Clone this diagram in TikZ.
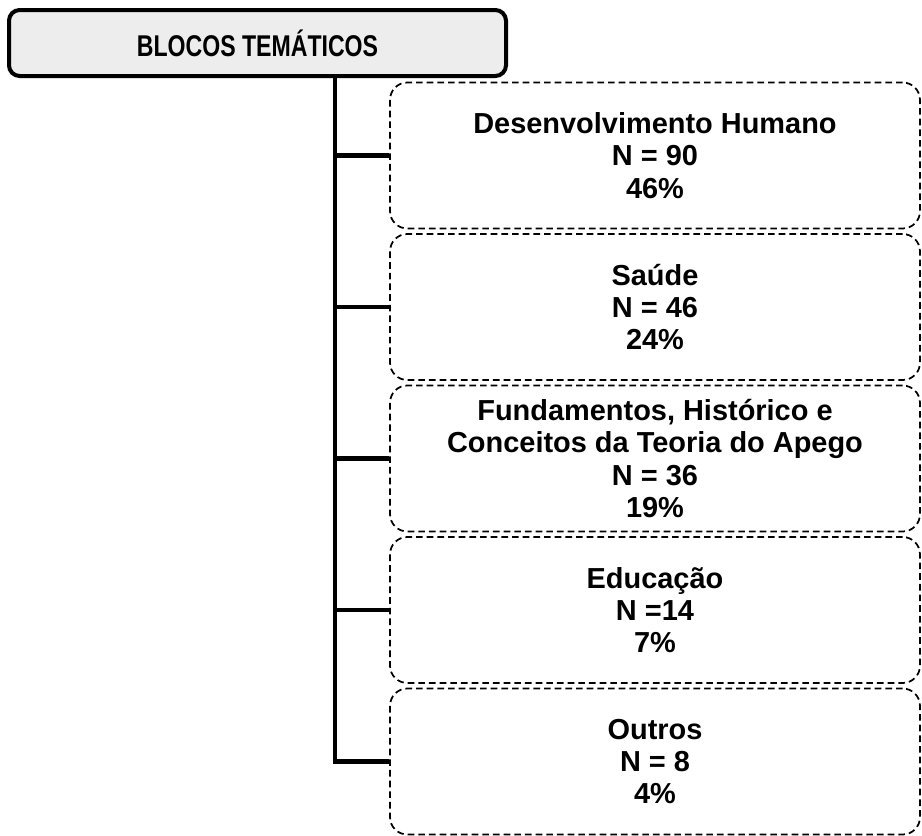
\documentclass[tikz,border=0pt]{standalone}
\usepackage{graphicx}
\usepackage{fontspec}
\setmainfont{Liberation Sans}
\usetikzlibrary{positioning}

\tikzset{
    titulo/.style={draw, line width=3pt, rounded corners=8pt, fill=gray!14,
        minimum width=372.75pt, minimum height=49.5pt, inner sep=0pt,
        font=\bfseries\fontsize{22.5}{24}\selectfont},
    tema/.style={draw, dash pattern=on 5pt off 3pt, line width=1.3pt,
        rounded corners=13pt, minimum width=397.5pt, minimum height=109.5pt,
        align=center, inner sep=0pt, font=\bfseries\fontsize{21.7}{24.2}\selectfont},
    ramo/.style={line width=3.5pt}
}

\begin{document}
\begin{tikzpicture}[x=0.75pt, y=-0.75pt]
    \useasboundingbox (0,0) rectangle (922,836);

    \node[titulo] (blocos) at (257.5,43) {\scalebox{0.77}[1]{BLOCOS TEMÁTICOS}};

    \foreach \i/\txt in {1/{Desenvolvimento Humano\\N = 90\\46\%},
                         2/{Saúde\\N = 46\\24\%},
                         3/{Fundamentos, Histórico e\\Conceitos da Teoria do Apego\\N = 36\\19\%},
                         4/{Educação\\N =14\\7\%},
                         5/{Outros\\N = 8\\4\%}}
        \node[tema] (tema\i) at (655,{155.5+151.5*(\i-1)}) {\txt};

    % tronco e ramos
    \coordinate (tronco) at (335,0);
    \draw[ramo] (tronco |- blocos.south) |- (tema5.west);
    \foreach \i in {1,...,4}
        \draw[ramo] (tronco |- tema\i.west) -- (tema\i.west);

\end{tikzpicture}
\end{document}
